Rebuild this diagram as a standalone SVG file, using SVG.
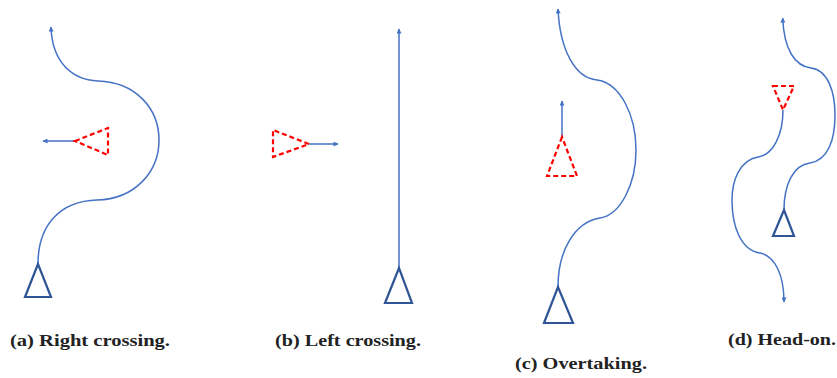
<svg xmlns="http://www.w3.org/2000/svg" width="837" height="378" viewBox="0 0 837 378">
<style>
.trk{fill:none;stroke:#4472C4;stroke-width:1.5}
.own{fill:none;stroke:#2F5597;stroke-width:2.2;stroke-linejoin:miter}
.tgt{fill:none;stroke:#FF0000;stroke-width:2.2;stroke-dasharray:5 3}
.lbl{font-family:"Liberation Serif","Times New Roman",serif;font-weight:bold;font-size:17px;fill:#222}
</style>
<defs>
<marker id="ah" viewBox="0 0 10 10" refX="9" refY="5" markerWidth="6" markerHeight="5" markerUnits="userSpaceOnUse" orient="auto">
<path d="M0,0 L10,5 L0,10 Z" fill="#4472C4"/>
</marker>
</defs>
<rect width="837" height="378" fill="#fff"/>
<g id="connectors">
<path class="trk" marker-end="url(#ah)" d="M38,264 C38,225 60,201 97,200 C135,199 159,172 159,140 C159,108 135,82 98,81 C72,80 52,62 51,27"/>
<line class="trk" marker-end="url(#ah)" x1="75" y1="141" x2="43" y2="141"/>
<line class="trk" marker-end="url(#ah)" x1="399" y1="268" x2="399" y2="29"/>
<line class="trk" marker-end="url(#ah)" x1="309" y1="144" x2="338" y2="144"/>
<path class="trk" marker-end="url(#ah)" d="M558,287 C558,250 575,222 600,218 C620,215 636,185 636,150 C636,115 620,83 597,80 C575,78 560,50 558,9"/>
<line class="trk" marker-end="url(#ah)" x1="562" y1="137" x2="562" y2="101"/>
<path class="trk" marker-end="url(#ah)" d="M784,210 C784,185 793,165 810,163 C828,160 835,140 835,115 C835,92 828,70 811,68 C795,66 784,50 782.7,18"/>
<path class="trk" marker-end="url(#ah)" d="M783,110 C783,135 773,155 758,157 C740,160 732,180 732,200 C732,225 740,250 760,253 C775,256 784,275 784,302"/>
</g>
<g id="panel-a">
<polygon id="own-a" class="own" points="38,264 25,297 51,297"/>
<polygon id="tgt-a" class="tgt" points="75,141 108,128 108,155"/>
<text class="lbl" x="10" y="346" textLength="160" lengthAdjust="spacingAndGlyphs">(a) Right crossing.</text>
</g>
<g id="panel-b">
<polygon id="own-b" class="own" points="399,268 385,303 412,303"/>
<polygon id="tgt-b" class="tgt" points="309,144 273,130 273,157"/>
<text class="lbl" x="275" y="346" textLength="146" lengthAdjust="spacingAndGlyphs">(b) Left crossing.</text>
</g>
<g id="panel-c">
<polygon id="own-c" class="own" points="558,287 544,323 573,323"/>
<polygon id="tgt-c" class="tgt" points="562,137 547,176 577,176"/>
<text class="lbl" x="515" y="369" textLength="132" lengthAdjust="spacingAndGlyphs">(c) Overtaking.</text>
</g>
<g id="panel-d">
<polygon id="own-d" class="own" points="784,210 773,236 794,236"/>
<polygon id="tgt-d" class="tgt" points="773,86 794,86 783,110"/>
<text class="lbl" x="728" y="345" textLength="108" lengthAdjust="spacingAndGlyphs">(d) Head-on.</text>
</g>
</svg>
